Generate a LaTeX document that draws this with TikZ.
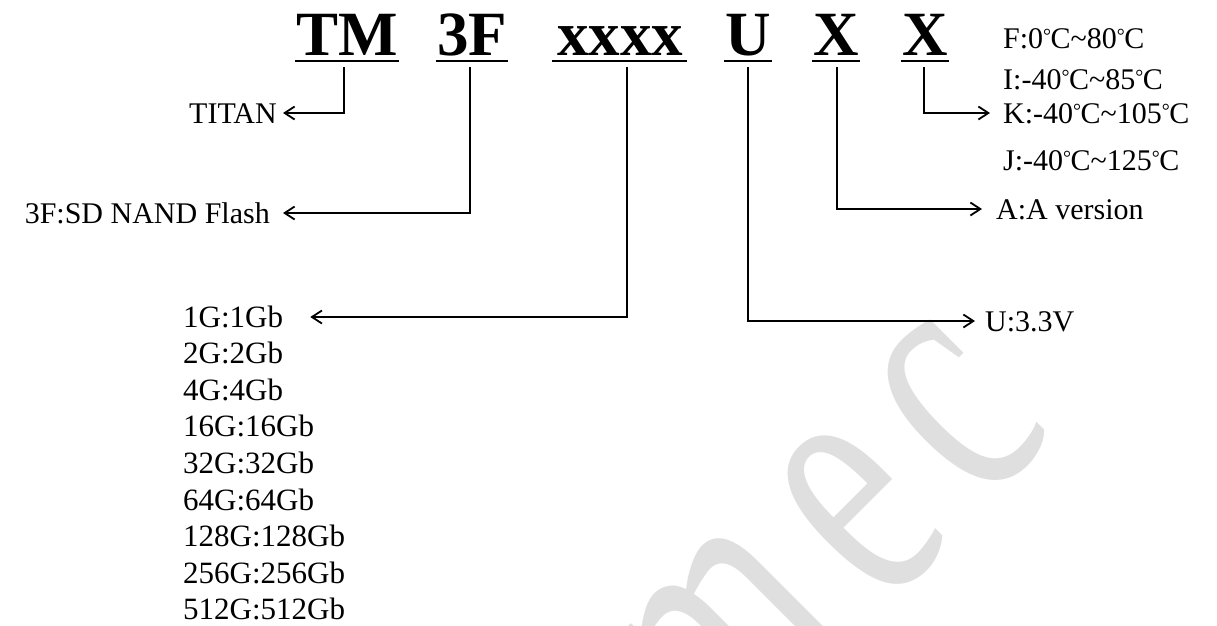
\documentclass[tikz,border=0pt]{standalone}
\usepackage{fontspec}
\setmainfont{Liberation Serif}
\usetikzlibrary{arrows.meta}
\definecolor{wm}{RGB}{223,223,223}
\newcommand{\dC}{\raisebox{6pt}{\fontsize{20}{20}\selectfont °}\kern-0.5pt C}
\newcommand{\tld}{\char"7E\relax}
\begin{document}
\begin{tikzpicture}[x=1pt,y=-1pt,
  hdr/.style={font=\fontsize{63}{63}\selectfont\bfseries, inner sep=0pt, anchor=base},
  lbl/.style={font=\fontsize{30}{36}\selectfont, inner sep=0pt, text height=20pt, text depth=0pt},
  lst/.style={lbl, font=\fontsize{31}{37}\selectfont, anchor=west},
  arr/.style={line width=1.8pt, -{Straight Barb[length=10pt,width=13pt,line width=1.8pt]}},
  uline/.style={line width=2.2pt},
  wmstyle/.style={font=\fontsize{370}{370}\selectfont, text=wm, rotate=45, xscale=0.66, inner sep=0pt}]
\useasboundingbox (0,0) rectangle (1217,625);
\begin{scope}
\clip (0,0) rectangle (1217,625);
\node[wmstyle] (wm1) at (730,642) {m};
\node[wmstyle] (wm2) at (860,512) {e};
\node[wmstyle] (wm3) at (958,410) {c};
\end{scope}
% header
\node[hdr] (TM) at (347,55) {TM};
\node[hdr] (F3) at (472,55) {3F};
\node[hdr] (xx) at (620,55) {xxxx};
\node[hdr] (U) at (748,55) {U};
\node[hdr] (X1) at (836,55) {X};
\node[hdr] (X2) at (925,55) {X};
\foreach \n in {TM,F3,U,X1,X2}
  \draw[uline] ([shift={(-1,6)}]\n.base west) -- ([shift={(1,6)}]\n.base east);
\draw[uline] ([shift={(-5,6)}]xx.base west) -- ([shift={(4,6)}]xx.base east);
% start points of connectors
\coordinate (vTM) at (344,67);
\coordinate (v3F) at (470,67);
\coordinate (vxx) at (627,67);
\coordinate (vU) at (748,67);
\coordinate (vX1) at (837,67);
\coordinate (vX2) at (924,67);
% labels
\node[lbl, anchor=east] (titan) at (277,113) {TITAN};
\node[lbl, anchor=east] (flash) at (270,213) {3F:SD NAND Flash};
\node[lst] (g1) at (183,317) {1G:1Gb};
\foreach \t [count=\i from 1] in {2G:2Gb,4G:4Gb,16G:16Gb,32G:32Gb,64G:64Gb,128G:128Gb,256G:256Gb,512G:512Gb}
  \node[lst] (g\i b) at (183,{317+36.6*\i}) {\t};
\node[lbl, anchor=west] (u33) at (985,321) {U:3.3V};
\node[lbl, anchor=west] (aver) at (996,209) {A:A version};
\node[lbl, anchor=west] (tF) at (1003,38) {F:0\dC\tld80\dC};
\node[lbl, anchor=west] (tI) at (1003,79) {I:-40\dC\tld85\dC};
\node[lbl, anchor=west] (tK) at (1003,113) {K:-40\dC\tld105\dC};
\node[lbl, anchor=west] (tJ) at (1003,160) {J:-40\dC\tld125\dC};
% connectors
\draw[arr] (vTM) |- ([xshift=6]titan.east);
\draw[arr] (v3F) |- ([xshift=13]flash.east);
\draw[arr] (vxx) |- ([xshift=27]g1.east);
\draw[arr] (vU) |- ([xshift=-10]u33.west);
\draw[arr] (vX1) |- ([xshift=-14]aver.west);
\draw[arr] (vX2) |- ([xshift=-13]tK.west);
\end{tikzpicture}
\end{document}
